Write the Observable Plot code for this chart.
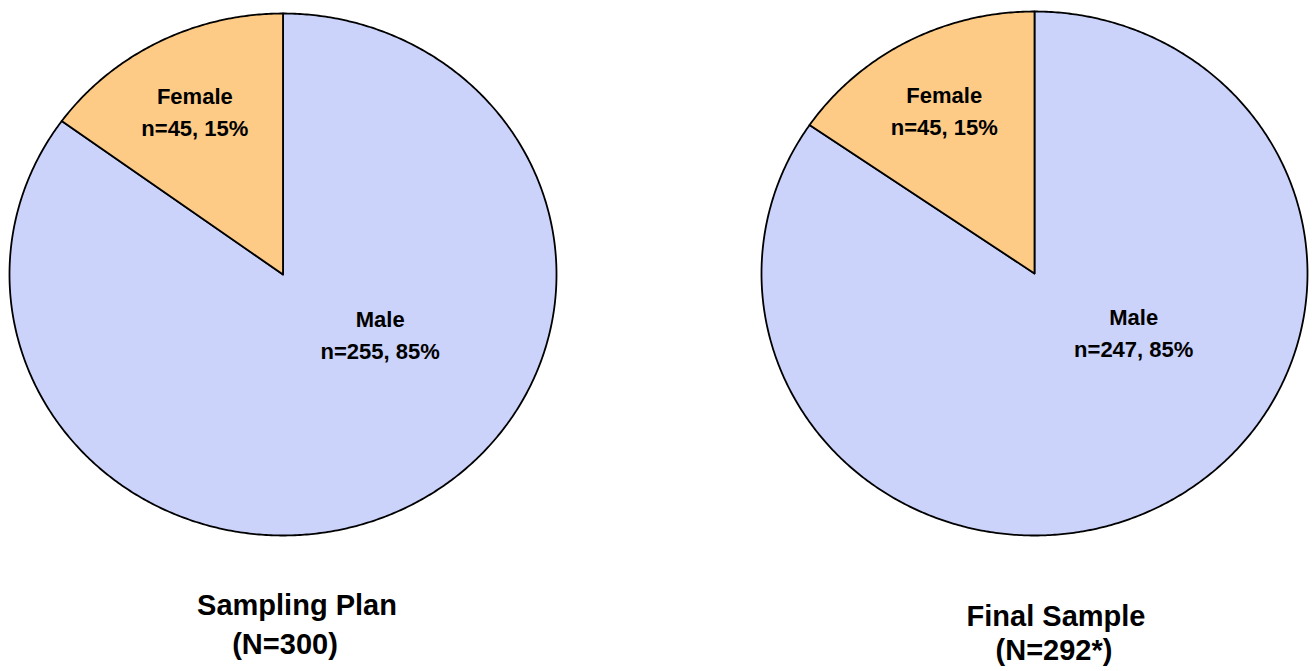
<!DOCTYPE html>
<html>
<head>
<meta charset="utf-8">
<script src="https://cdn.jsdelivr.net/npm/d3@7"></script>
<script src="https://cdn.jsdelivr.net/npm/@observablehq/plot@0.6"></script>
<style>
  html, body { margin: 0; padding: 0; background: #fff; }
  #wrap { position: relative; width: 1313px; height: 671px; overflow: hidden; font-family: "Liberation Sans", Arial, sans-serif; }
  .pie { position: absolute; top: 0; }
  .cap { position: absolute; font-weight: bold; font-size: 29px; line-height: 40px; white-space: nowrap; color: #000; transform: translateX(-50%); }
</style>
</head>
<body>
<div id="wrap"></div>
<script>
// ---- data ----
const chartTitles = ["Sampling Plan", "Final Sample"];
const chartTotals = ["(N=300)", "(N=292*)"];
const categories = ["Male", "Female"];
const planCounts = [255, 45];
const finalCounts = [247, 45];
const sliceColors = ["#cbd3fb", "#fdcb86"];

const wrap = document.getElementById("wrap");

function buildSlices(counts) {
  const total = d3.sum(counts);
  const arcs = d3.pie().sort(null).startAngle(0).endAngle(2 * Math.PI)(counts);
  const outline = [];
  const labels = [];
  arcs.forEach((a, i) => {
    const cat = categories[i];
    outline.push({cat, x: 0, y: 0});
    const n = Math.max(2, Math.ceil((a.endAngle - a.startAngle) / (Math.PI / 360)));
    for (let k = 0; k <= n; k++) {
      const t = a.startAngle + (a.endAngle - a.startAngle) * k / n;
      outline.push({cat, x: Math.sin(t), y: Math.cos(t)});
    }
    outline.push({cat, x: 0, y: 0});
    const mid = (a.startAngle + a.endAngle) / 2;
    const r = 0.71;
    labels.push({
      cat,
      x: Math.sin(mid) * r,
      y: Math.cos(mid) * r,
      text: `${cat}\nn=${counts[i]}, ${Math.round(counts[i] / total * 100)}%`
    });
  });
  return {outline, labels};
}

function drawPie(counts, xRange, yRange) {
  const {outline, labels} = buildSlices(counts);
  return Plot.plot({
    width: 657,
    height: 560,
    x: {domain: [-1, 1], range: xRange, axis: null},
    y: {domain: [-1, 1], range: yRange, axis: null},
    color: {domain: categories, range: sliceColors},
    style: {background: "transparent", overflow: "visible"},
    marks: [
      Plot.line(outline, {x: "x", y: "y", z: "cat", fill: "cat", stroke: "#000", strokeWidth: 1.8, strokeLinejoin: "round"}),
      Plot.text(labels.filter(d => d.cat === "Female"), {
        x: "x", y: "y", text: "text", fontSize: 22, fontWeight: "bold", lineHeight: 1.45,
        fontFamily: "Liberation Sans, Arial, sans-serif", fill: "#000"
      }),
      Plot.text(labels.filter(d => d.cat === "Male"), {
        x: "x", y: "y", text: "text", fontSize: 22, fontWeight: "bold", lineHeight: 1.45,
        dx: 9, dy: -107,
        fontFamily: "Liberation Sans, Arial, sans-serif", fill: "#000"
      })
    ]
  });
}

const left = drawPie(planCounts, [9, 556], [535, 13]);
left.classList.add("pie");
left.style.left = "0px";
wrap.appendChild(left);

const right = drawPie(finalCounts, [104, 650], [535, 11]);
right.classList.add("pie");
right.style.left = "657px";
wrap.appendChild(right);

function caption(text, cx, top) {
  const d = document.createElement("div");
  d.className = "cap";
  d.textContent = text;
  d.style.left = cx + "px";
  d.style.top = top + "px";
  wrap.appendChild(d);
}
caption(chartTitles[0], 297, 585);
caption(chartTotals[0], 285, 624);
caption(chartTitles[1], 1056, 596);
caption(chartTotals[1], 1054, 630);
</script>
</body>
</html>
